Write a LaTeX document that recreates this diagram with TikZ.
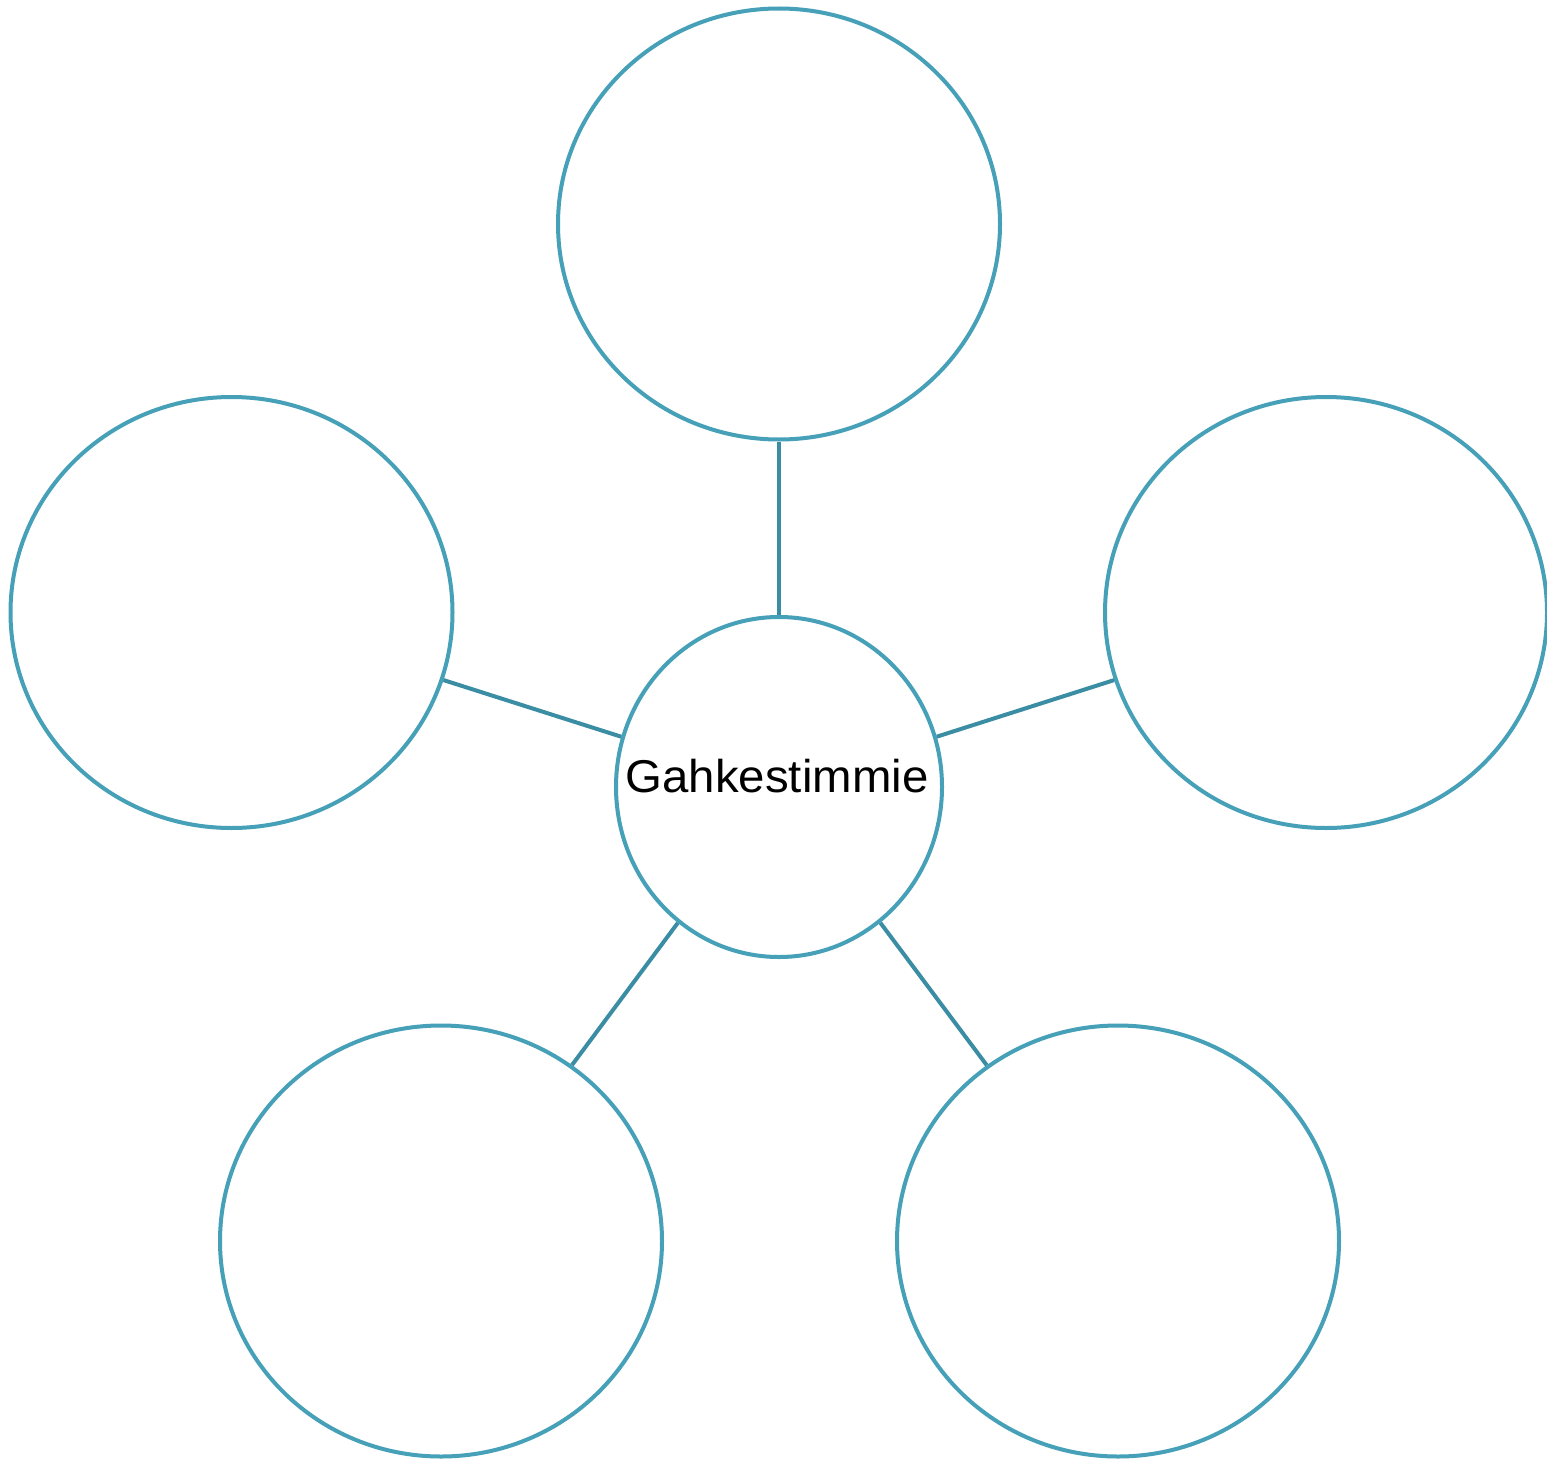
\documentclass[tikz,border=0pt]{standalone}
\usepackage{fontspec}
\setmainfont{Liberation Sans}
\usetikzlibrary{shapes.geometric}
\definecolor{ringcol}{HTML}{45A0B8}
\definecolor{linkcol}{HTML}{3A8DA3}
\begin{document}
\begin{tikzpicture}[x=1pt,y=-1pt,
  ring/.style={ellipse,draw=ringcol,line width=4pt,inner sep=0pt,
    minimum width=442pt,minimum height=431pt},
  hub/.style={ellipse,draw=ringcol,line width=4pt,inner sep=0pt,
    minimum width=326pt,minimum height=340pt},
  link/.style={draw=linkcol,line width=4pt}]
\useasboundingbox (0,0) rectangle (1547,1461);
\node[ring] (top) at (779,224) {};
\node[ring] (left) at (231.5,612.5) {};
\node[ring] (right) at (1326,612.5) {};
\node[ring] (bl) at (441,1241) {};
\node[ring] (br) at (1118,1241) {};
\node[hub] (hub) at (779,787) {};
\node[anchor=base,inner sep=0pt,xscale=1.03,font=\fontsize{46}{46}\selectfont] (lbl) at (777,792) {Gahkestimmie};
\draw[link] (top) -- (hub);
\draw[link] (left) -- (hub);
\draw[link] (right) -- (hub);
\draw[link] (bl) -- (hub);
\draw[link] (br) -- (hub);
\end{tikzpicture}
\end{document}
